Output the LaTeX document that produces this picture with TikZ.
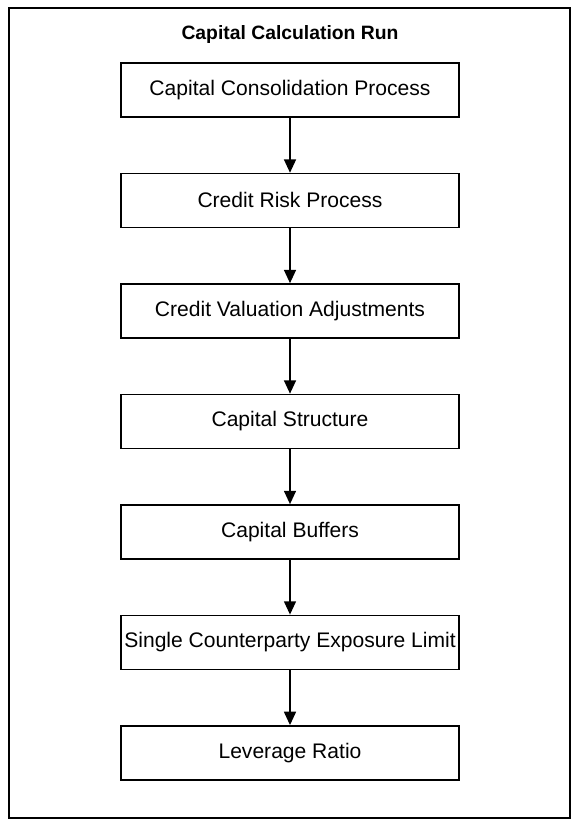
\documentclass[tikz,border=0pt]{standalone}
\usepackage{fontspec}
\setmainfont{Liberation Sans}
\usetikzlibrary{positioning, arrows.meta}

\tikzset{
  stagebox/.style={draw, line width=1.1pt, minimum width=253.5pt, minimum height=40.5pt,
    inner xsep=0pt, font=\fontsize{15.8}{19}\selectfont},
  flow/.style={-{Triangle[length=10pt, width=9pt]}, line width=1.1pt}
}

\begin{document}
\begin{tikzpicture}[x=0.75pt, y=-0.75pt, node distance=41.25pt]
    \useasboundingbox (0,0) rectangle (579,824);

    % Outer frame
    \draw[line width=1.3pt] (9,8) rectangle (570,818);

    % Title
    \node (title) at (290,35) {\fontsize{14.5}{17}\selectfont\bfseries Capital Calculation Run};

    % Process steps
    \node[stagebox] (consol) at (290,90) {Capital Consolidation Process};
    \node[stagebox, below=of consol] (credit) {Credit Risk Process};
    \node[stagebox, below=of credit] (cva) {Credit Valuation Adjustments};
    \node[stagebox, below=of cva] (structure) {Capital Structure};
    \node[stagebox, below=of structure] (buffers) {Capital Buffers};
    \node[stagebox, below=of buffers] (scel) {Single Counterparty Exposure Limit};
    \node[stagebox, below=of scel] (leverage) {Leverage Ratio};

    % Edges
    \draw[flow] (consol) -- (credit);
    \draw[flow] (credit) -- (cva);
    \draw[flow] (cva) -- (structure);
    \draw[flow] (structure) -- (buffers);
    \draw[flow] (buffers) -- (scel);
    \draw[flow] (scel) -- (leverage);
\end{tikzpicture}
\end{document}
